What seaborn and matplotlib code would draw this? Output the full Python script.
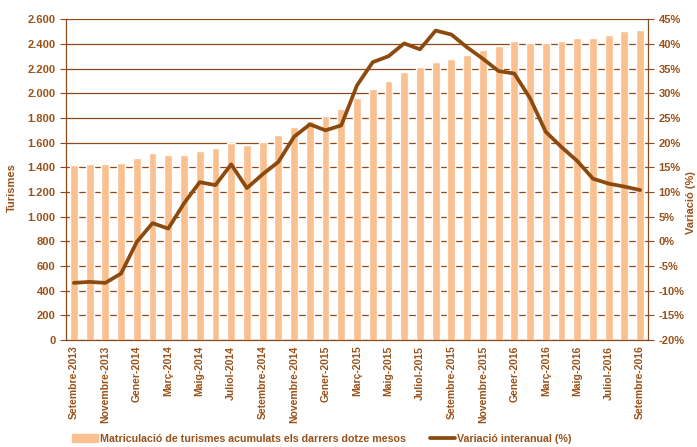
import numpy as np
import pandas as pd
import matplotlib
matplotlib.use("Agg")
import matplotlib.pyplot as plt
import seaborn as sns
from matplotlib.ticker import FixedLocator, FuncFormatter
from matplotlib.patches import Patch
from matplotlib.lines import Line2D


# -------------------- DATA --------------------
mesos = ["Gener", "Febrer", "Març", "Abril", "Maig", "Juny",
         "Juliol", "Agost", "Setembre", "Octubre", "Novembre", "Desembre"]

periodes = []
for i in range(37):
    m = (8 + i) % 12
    any_ = 2013 + (8 + i) // 12
    periodes.append(f"{mesos[m]}-{any_}")

turismes = [1423, 1431, 1431, 1439, 1479, 1517, 1500, 1500, 1533, 1557,
            1598, 1579, 1609, 1660, 1725, 1773, 1814, 1870, 1965, 2038,
            2103, 2173, 2211, 2251, 2275, 2308, 2348, 2381, 2421, 2405,
            2405, 2427, 2446, 2446, 2470, 2502, 2510]

variacio = [-8.4, -8.2, -8.4, -6.5, -0.1, 3.7, 2.6, 7.7, 12.0, 11.4,
            15.6, 10.8, 13.6, 16.1, 21.2, 23.7, 22.5, 23.5, 31.6, 36.3,
            37.5, 40.1, 38.9, 42.7, 41.9, 39.3, 37.0, 34.5, 34.0, 29.0,
            22.2, 19.1, 16.3, 12.7, 11.7, 11.1, 10.4]

# -------------------- STYLE --------------------
BAR = "#FAC090"
LINE = "#8C4A0E"
TXT = "#99521A"
GRID = "#8C4A1A"

sns.set_style("white")
plt.rcParams["font.family"] = ["Liberation Sans", "DejaVu Sans"]
plt.rcParams["font.weight"] = "bold"

df = pd.DataFrame({"Periode": periodes, "Turismes": turismes,
                   "Variacio": variacio, "pos": np.arange(len(periodes))})

fig = plt.figure(figsize=(6.97, 4.47), dpi=100)
ax = fig.add_axes([0.0947, 0.239, 0.835, 0.718])

sns.barplot(data=df, x="Periode", y="Turismes", color=BAR, width=0.5,
            saturation=1, ax=ax, zorder=2)
ax.set_ylim(0, 2600)
ax.set_xlim(-0.5, len(periodes) - 0.5)
ax.yaxis.set_major_locator(FixedLocator(np.arange(0, 2601, 200)))
ax.yaxis.set_major_formatter(FuncFormatter(lambda v, p: f"{int(v):,}".replace(",", ".")))
ax.grid(axis="y", color=GRID, lw=0.9, zorder=0)
ax.set_axisbelow(True)

# x ticks: marks at every boundary, labels every second bar
ax.set_xticks(np.arange(-0.5, len(periodes), 1.0), minor=False)
ax.set_xticklabels([])
ax.set_xticks(np.arange(0, len(periodes), 2), minor=True)
ax.set_xticklabels(periodes[::2], minor=True, rotation=90, fontsize=7.5,
                   fontweight="bold", color=TXT)
ax.tick_params(axis="x", which="major", length=4, width=0.8, color=GRID, direction="out")
ax.tick_params(axis="x", which="minor", length=0, pad=4)
ax.tick_params(axis="y", length=4, width=0.8, color=GRID, labelsize=8, labelcolor=TXT)
for lab in ax.get_yticklabels():
    lab.set_fontweight("bold")

ax.set_xlabel("")
ax.set_ylabel("Turismes", fontsize=8, fontweight="bold", color=TXT)
ax.yaxis.set_label_coords(-0.085, 0.477)
for s in ["top", "right"]:
    ax.spines[s].set_visible(False)
for s in ["left", "bottom"]:
    ax.spines[s].set_color(GRID)
    ax.spines[s].set_linewidth(0.9)

ax2 = ax.twinx()
sns.lineplot(data=df, x="pos", y="Variacio", color=LINE, lw=2.7, ax=ax2, zorder=3)
ax2.set_ylim(-20, 45)
ax2.yaxis.set_major_locator(FixedLocator(np.arange(-20, 46, 5)))
ax2.yaxis.set_major_formatter(FuncFormatter(lambda v, p: f"{int(v)}%"))
ax2.tick_params(axis="y", length=4, width=0.8, color=GRID, labelsize=8, labelcolor=TXT)
for lab in ax2.get_yticklabels():
    lab.set_fontweight("bold")
ax2.set_xlabel("")
ax2.set_ylabel("Variació (%)", fontsize=8, fontweight="bold", color=TXT, rotation=90)
ax2.yaxis.set_label_coords(1.066, 0.43)
for s in ["top", "left", "bottom"]:
    ax2.spines[s].set_visible(False)
ax2.spines["right"].set_color(GRID)
ax2.spines["right"].set_linewidth(0.9)

handles = [Patch(color=BAR), Line2D([0], [0], color=LINE, lw=2.7)]
labels = ["Matriculació de turismes acumulats els darrers dotze mesos",
          "Variació interanual (%)"]
leg = fig.legend(handles, labels, loc="lower left", bbox_to_anchor=(0.09, -0.014),
                 ncol=2, frameon=False, fontsize=7.7, handlelength=2.4,
                 handletextpad=0.2, columnspacing=2.2)
for t in leg.get_texts():
    t.set_color(TXT)
    t.set_fontweight("bold")

fig.savefig("out.png", dpi=100)
